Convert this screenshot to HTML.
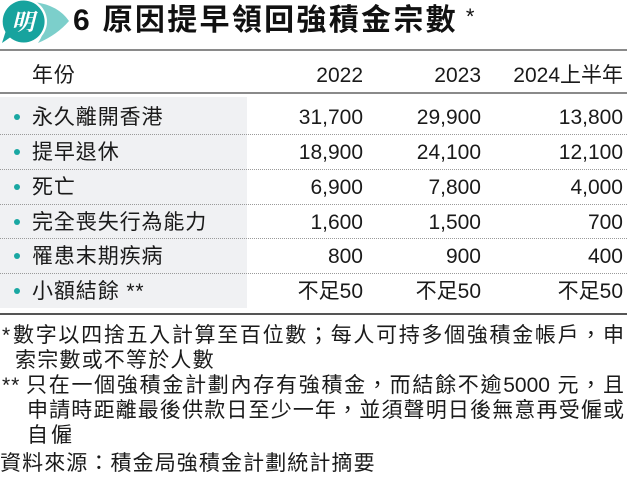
<!DOCTYPE html>
<html>
<head>
<meta charset="utf-8">
<style>
*{margin:0;padding:0;box-sizing:border-box;}
html,body{width:627px;height:481px;background:#fff;overflow:hidden;}
body{position:relative;font-family:"Liberation Sans","Noto Sans CJK TC",sans-serif;color:#1a1a1a;}
.abs{position:absolute;}
.title{left:73px;top:3px;height:36px;line-height:36px;font-size:30px;font-weight:700;letter-spacing:2.3px;color:#111;white-space:nowrap;}
.title .star{font-weight:400;font-size:22px;position:relative;top:-6px;margin-left:8px;letter-spacing:0;}
.hline{left:0;width:627px;}
.grey{left:0;top:97px;width:247px;height:211px;background:#f0f1f3;}
.dot{left:0;width:627px;height:0;border-top:1px dotted #9a9a9a;}
.row{left:0;width:627px;height:35px;line-height:35px;font-size:21px;white-space:nowrap;}
.lbl{position:absolute;left:32px;top:0;letter-spacing:0.9px;}
.bul{position:absolute;left:14px;top:14px;width:6px;height:6px;border-radius:50%;background:#19a7a2;}
.c1,.c2,.c3{position:absolute;top:0;text-align:right;}
.c1{right:264px;}
.c2{right:146px;}
.c3{right:4px;}
.fn{height:26px;line-height:26px;font-size:21px;white-space:nowrap;color:#1a1a1a;}
.just{text-align:justify;text-align-last:justify;white-space:normal;overflow:hidden;}
</style>
</head>
<body>
<!-- logo -->
<svg class="abs" style="left:0;top:0" width="72" height="46" viewBox="0 0 72 46">
  <path d="M34 2 Q58 5 69 21 Q57 35 38 43 Q52 22 34 2 Z" fill="#7ccfcb"/>
  <circle cx="24" cy="21.5" r="23" fill="#fff"/>
  <path d="M24 0.5 A21 21 0 1 1 10 37.5 L2 43 L5.5 32 A21 21 0 0 1 24 0.5 Z" fill="#17a39e"/>
  <text x="23" y="30" text-anchor="middle" font-family="'Noto Serif CJK SC','Noto Sans CJK TC',serif" font-weight="700" font-size="23" fill="#fff" font-style="italic">明</text>
</svg>
<div class="abs title">6 原因提早領回強積金宗數<span class="star">*</span></div>

<!-- lines -->
<div class="abs hline" style="top:49px;height:2px;background:#8a8a8a;"></div>
<div class="abs row" style="top:58px;">
  <span class="lbl" style="letter-spacing:1px;">年份</span>
  <span class="c1">2022</span>
  <span class="c2">2023</span>
  <span class="c3">2024上半年</span>
</div>
<div class="abs hline" style="top:92px;height:2px;background:#8a8a8a;"></div>

<div class="abs grey"></div>
<div class="abs dot" style="top:134px;"></div>
<div class="abs dot" style="top:169px;"></div>
<div class="abs dot" style="top:204px;"></div>
<div class="abs dot" style="top:238px;"></div>
<div class="abs dot" style="top:273px;"></div>
<div class="abs hline" style="top:313px;height:2px;background:#555;"></div>

<div class="abs row" style="top:100px;"><span class="bul"></span><span class="lbl">永久離開香港</span><span class="c1">31,700</span><span class="c2">29,900</span><span class="c3">13,800</span></div>
<div class="abs row" style="top:135px;"><span class="bul"></span><span class="lbl">提早退休</span><span class="c1">18,900</span><span class="c2">24,100</span><span class="c3">12,100</span></div>
<div class="abs row" style="top:170px;"><span class="bul"></span><span class="lbl">死亡</span><span class="c1">6,900</span><span class="c2">7,800</span><span class="c3">4,000</span></div>
<div class="abs row" style="top:205px;"><span class="bul"></span><span class="lbl">完全喪失行為能力</span><span class="c1">1,600</span><span class="c2">1,500</span><span class="c3">700</span></div>
<div class="abs row" style="top:239px;"><span class="bul"></span><span class="lbl">罹患末期疾病</span><span class="c1">800</span><span class="c2">900</span><span class="c3">400</span></div>
<div class="abs row" style="top:274px;"><span class="bul"></span><span class="lbl">小額結餘 **</span><span class="c1">不足50</span><span class="c2">不足50</span><span class="c3">不足50</span></div>

<!-- footnotes -->
<div class="abs fn" style="left:2px;top:323px;">*</div>
<div class="abs fn just" style="left:13px;top:323px;width:611px;">數字以四捨五入計算至百位數；每人可持多個強積金帳戶，申</div>
<div class="abs fn" style="left:15px;top:348px;letter-spacing:1.2px;">索宗數或不等於人數</div>
<div class="abs fn" style="left:2px;top:373px;letter-spacing:1px;">**</div>
<div class="abs fn just" style="left:26px;top:373px;width:598px;">只在一個強積金計劃內存有強積金，而結餘不逾5000 元，且</div>
<div class="abs fn just" style="left:27px;top:398px;width:597px;">申請時距離最後供款日至少一年，並須聲明日後無意再受僱或</div>
<div class="abs fn" style="left:27px;top:423px;letter-spacing:3px;">自僱</div>
<div class="abs fn" style="left:0px;top:451px;letter-spacing:1.1px;">資料來源：積金局強積金計劃統計摘要</div>
</body>
</html>
